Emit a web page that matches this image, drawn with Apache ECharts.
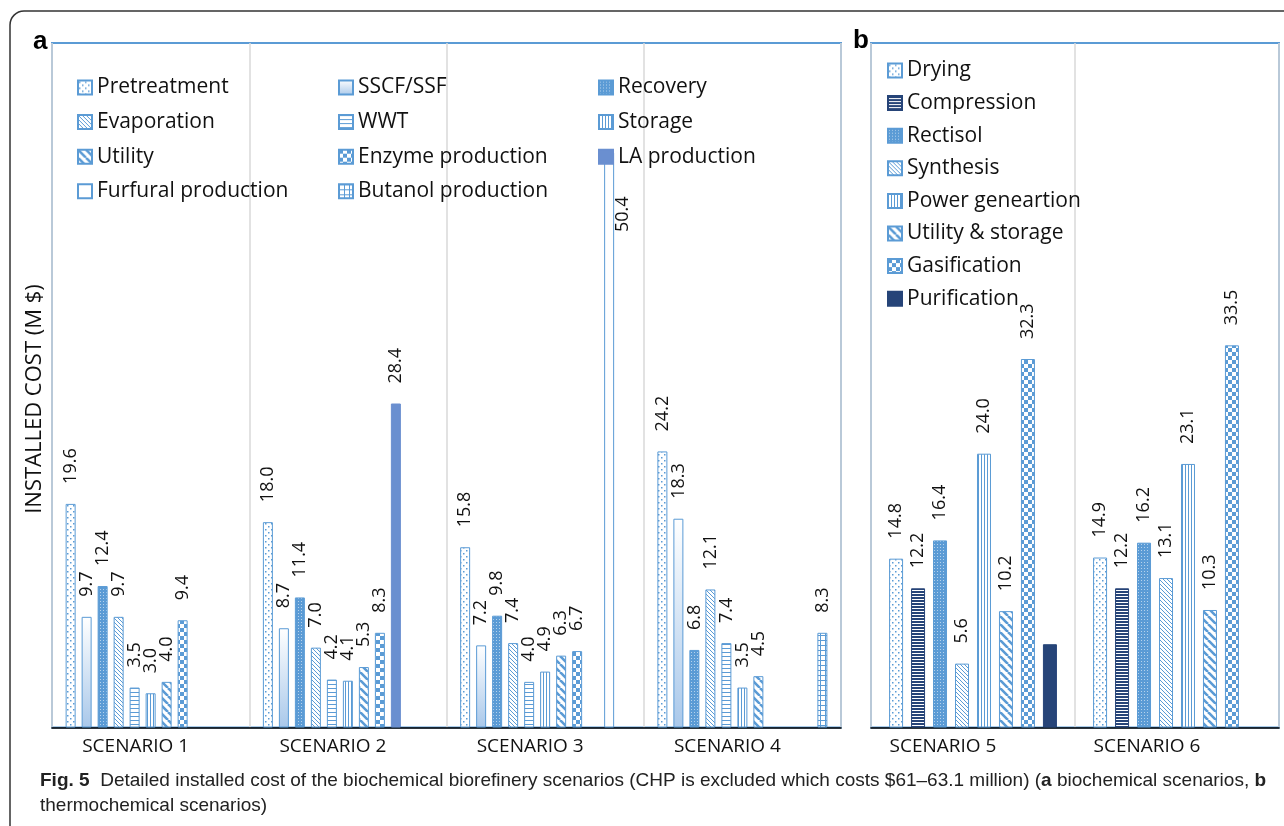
<!DOCTYPE html>
<html><head><meta charset="utf-8">
<script src="https://cdn.jsdelivr.net/npm/echarts@6/dist/echarts.min.js"></script>
<style>html,body{margin:0;padding:0;background:#fff}#c{width:1284px;height:826px}</style>
</head><body><div id="c"></div>
<script>
// ---------- DATA ----------
const categoriesA = ['SCENARIO 1', 'SCENARIO 2', 'SCENARIO 3', 'SCENARIO 4'];
const categoriesB = ['SCENARIO 5', 'SCENARIO 6'];

const pretreatment = [19.6, 18.0, 15.8, 24.2];
const sscfSsf      = [9.7, 8.7, 7.2, 18.3];
const recovery     = [12.4, 11.4, 9.8, 6.8];
const evaporation  = [9.7, 7.0, 7.4, 12.1];
const wwt          = [3.5, 4.2, 4.0, 7.4];
const storage      = [3.0, 4.1, 4.9, 3.5];
const utility      = [4.0, 5.3, 6.3, 4.5];
const enzymeProd   = [9.4, 8.3, 6.7, null];
const laProd       = [null, 28.4, null, null];
const furfuralProd = [null, null, 50.4, null];
const butanolProd  = [null, null, null, 8.3];

const drying        = [14.8, 14.9];
const compression   = [12.2, 12.2];
const rectisol      = [16.4, 16.2];
const synthesis     = [5.6, 13.1];
const powerGen      = [24.0, 23.1];
const utilStorage   = [10.2, 10.3];
const gasification  = [32.3, 33.5];
const purification  = [7.3, null];

const yMin = 0, yMax = 60;

// ---------- STYLE ----------
const BLUE = '#5b9bd5', NAVY = '#264478', LAC = '#6a8fd0';
const FONT = "'Open Sans', 'Noto Sans', sans-serif";
function pat(w, h, bg, draw) {
  const c = document.createElement('canvas'); c.width = w; c.height = h;
  const g = c.getContext('2d'); g.fillStyle = bg; g.fillRect(0, 0, w, h); draw(g);
  return { image: c, repeat: 'repeat' };
}
const P = {
  dots: pat(6, 6, '#fff', g => { g.fillStyle = BLUE; g.fillRect(1, 1, 1.5, 1.5); g.fillRect(4, 4, 1.5, 1.5); }),
  fine: pat(3, 3, BLUE, g => { g.fillStyle = 'rgba(255,255,255,0.55)'; g.fillRect(1, 1, 1, 1); }),
  diagThin: pat(4, 4, '#fff', g => { g.fillStyle = BLUE; for (let i = 0; i < 4; i++) g.fillRect(i, i, 1, 1); }),
  hLines: pat(4, 4, '#fff', g => { g.fillStyle = BLUE; g.fillRect(0, 0, 4, 1); }),
  vLines: pat(3, 3, '#fff', g => { g.fillStyle = BLUE; g.fillRect(0, 0, 1, 3); }),
  diagWide: pat(8, 8, '#fff', g => { g.strokeStyle = BLUE; g.lineWidth = 2.6; g.beginPath(); for (let k = -8; k <= 16; k += 8) { g.moveTo(k, 0); g.lineTo(k + 8, 8); } g.stroke(); }),
  checker: pat(8, 8, '#fff', g => { g.fillStyle = BLUE; g.fillRect(0, 0, 4, 4); g.fillRect(4, 4, 4, 4); }),
  grid: pat(5, 5, '#fff', g => { g.fillStyle = BLUE; g.fillRect(0, 0, 5, 1); g.fillRect(0, 0, 1, 5); }),
  navyH: pat(3, 3, '#fff', g => { g.fillStyle = NAVY; g.fillRect(0, 0, 3, 2); })
};
const grad = new echarts.graphic.LinearGradient(0, 0, 0, 1, [
  { offset: 0, color: '#ffffff' }, { offset: 1, color: '#a9c8ea' }]);

const seriesDefA = [
  ['Pretreatment', pretreatment, P.dots, BLUE],
  ['SSCF/SSF', sscfSsf, grad, BLUE],
  ['Recovery', recovery, P.fine, BLUE],
  ['Evaporation', evaporation, P.diagThin, BLUE],
  ['WWT', wwt, P.hLines, BLUE],
  ['Storage', storage, P.vLines, BLUE],
  ['Utility', utility, P.diagWide, BLUE],
  ['Enzyme production', enzymeProd, P.checker, BLUE],
  ['LA production', laProd, LAC, LAC],
  ['Furfural production', furfuralProd, '#ffffff', BLUE],
  ['Butanol production', butanolProd, P.grid, BLUE]
];
const seriesDefB = [
  ['Drying', drying, P.dots, BLUE],
  ['Compression', compression, P.navyH, NAVY],
  ['Rectisol', rectisol, P.fine, BLUE],
  ['Synthesis', synthesis, P.diagThin, BLUE],
  ['Power geneartion', powerGen, P.vLines, BLUE],
  ['Utility & storage', utilStorage, P.diagWide, BLUE],
  ['Gasification', gasification, P.checker, BLUE],
  ['Purification', purification, NAVY, NAVY]
];

const baseLabel = {
  show: true, position: 'top', distance: 17, rotate: 90, align: 'left', verticalAlign: 'middle',
  offset: [3, 0], fontSize: 18, color: '#111', fontFamily: FONT,
  formatter: p => (p.value == null ? '' : Number(p.value).toFixed(1))
};

function mk(def, idx, barWidth, barGap) {
  const [name, data, fill, border] = def;
  const s = {
    name, type: 'bar', xAxisIndex: idx, yAxisIndex: idx, data,
    barWidth, barGap,
    itemStyle: { color: fill, borderColor: border, borderWidth: 1 },
    label: Object.assign({}, baseLabel)
  };
  if (name === 'Furfural production') {
    s.label = Object.assign({}, baseLabel, { position: [19, 44], align: 'right', offset: [0, 0] });
  }
  if (name === 'Purification') s.label = { show: false };
  return s;
}
const series = seriesDefA.map(d => mk(d, 0, 10, '60%')).concat(seriesDefB.map(d => mk(d, 1, 14, '57%')));

const legendBase = {
  orient: 'vertical', padding: 0, itemWidth: 14, itemHeight: 14, itemGap: 13.6, icon: 'rect',
  textStyle: { fontSize: 21, color: '#111', fontFamily: FONT, lineHeight: 20 }, selectedMode: false
};

const chart = echarts.init(document.getElementById('c'), null, { renderer: 'canvas' });
chart.setOption({
  animation: false,
  backgroundColor: '#fff',
  grid: [
    { left: 52, top: 43, width: 789, height: 684.5, show: true, borderColor: BLUE, borderWidth: 2, backgroundColor: 'transparent' },
    { left: 871, top: 43, width: 408, height: 684.5, show: true, borderColor: BLUE, borderWidth: 2, backgroundColor: 'transparent' }
  ],
  xAxis: [
    { gridIndex: 0, type: 'category', data: categoriesA,
      axisLine: { lineStyle: { color: '#000', width: 1.5 } }, axisTick: { show: false },
      axisLabel: { fontSize: 19, color: '#111', fontFamily: FONT, margin: 10, padding: [0, 30, 0, 0] },
      splitLine: { show: true, lineStyle: { color: '#d9d9d9', width: 1.5 } } },
    { gridIndex: 1, type: 'category', data: categoriesB,
      axisLine: { lineStyle: { color: '#000', width: 1.5 } }, axisTick: { show: false },
      axisLabel: { fontSize: 19, color: '#111', fontFamily: FONT, margin: 10, padding: [0, 60, 0, 0] },
      splitLine: { show: true, lineStyle: { color: '#d9d9d9', width: 1.5 } } }
  ],
  yAxis: [
    { gridIndex: 0, type: 'value', min: yMin, max: yMax, show: false },
    { gridIndex: 1, type: 'value', min: yMin, max: yMax, show: false }
  ],
  legend: [
    Object.assign({}, legendBase, { left: 77, top: 77, data: ['Pretreatment', 'Evaporation', 'Utility', 'Furfural production'] }),
    Object.assign({}, legendBase, { left: 338, top: 77, data: ['SSCF/SSF', 'WWT', 'Enzyme production', 'Butanol production'] }),
    Object.assign({}, legendBase, { left: 598, top: 77, data: ['Recovery', 'Storage', 'LA production'] }),
    Object.assign({}, legendBase, { left: 887, top: 60, itemGap: 11.6, data: seriesDefB.map(d => d[0]) })
  ],
  graphic: [
    { type: 'rect', shape: { x: 10, y: 11, width: 1300, height: 840, r: 14 }, style: { fill: 'none', stroke: '#333', lineWidth: 1.5 }, silent: true, z: 0 },
    { type: 'text', x: 33, y: 42, style: { text: 'a', font: "bold 26px 'Liberation Sans', Arial, sans-serif", fill: '#000', verticalAlign: 'middle' } },
    { type: 'text', x: 853, y: 41, style: { text: 'b', font: "bold 26px 'Liberation Sans', Arial, sans-serif", fill: '#000', verticalAlign: 'middle' } },
    { type: 'text', x: 35, y: 399, rotation: Math.PI / 2, style: { text: 'INSTALLED COST (M $)', font: "22px 'Open Sans', sans-serif", fill: '#111', align: 'center', verticalAlign: 'middle' } },
    { type: 'text', x: 40, y: 781, style: {
        text: '{b|Fig. 5}  Detailed installed cost of the biochemical biorefinery scenarios (CHP is excluded which costs $61–63.1 million) ({b|a} biochemical scenarios, {b|b}',
        font: "19px 'Liberation Sans', sans-serif", fill: '#222', verticalAlign: 'middle',
        rich: { b: { fontWeight: 'bold', fontSize: 19, fontFamily: "'Liberation Sans', sans-serif", fill: '#222' } } } },
    { type: 'text', x: 40, y: 806, style: { text: 'thermochemical scenarios)', font: "19px 'Liberation Sans', sans-serif", fill: '#222', verticalAlign: 'middle' } }
  ],
  series
});
</script></body></html>
